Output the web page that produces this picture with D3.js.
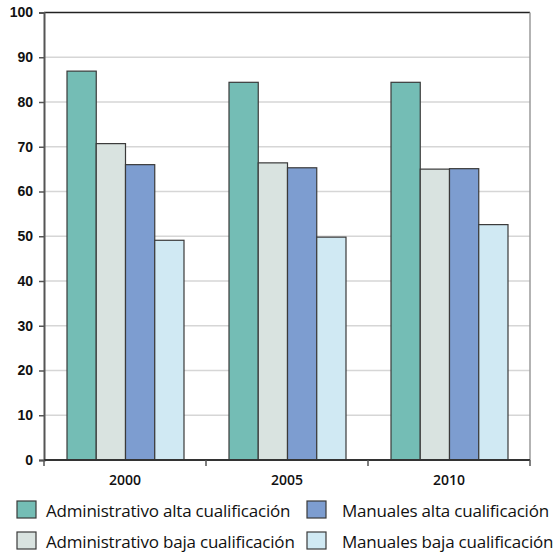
<!DOCTYPE html>
<html>
<head>
<meta charset="utf-8">
<script src="https://cdn.jsdelivr.net/npm/d3@7"></script>
<style>
  body { margin: 0; background: #fff; }
  svg { font-family: "Open Sans", "Noto Sans", sans-serif; }
</style>
</head>
<body>
<div id="chart"></div>
<script>
// data
var years = ["2000", "2005", "2010"];
var seriesNames = [
  "Administrativo alta cualificación",
  "Administrativo baja cualificación",
  "Manuales alta cualificación",
  "Manuales baja cualificación"
];
var adminAlta = [86.9, 84.4, 84.4];
var adminBaja = [70.7, 66.4, 65.0];
var manualAlta = [66.0, 65.3, 65.1];
var manualBaja = [49.1, 49.8, 52.6];
var yTicks = [0, 10, 20, 30, 40, 50, 60, 70, 80, 90, 100];
var colors = ["#74bdb5", "#d9e3e0", "#7d9dd0", "#d0e9f3"];

var values = [adminAlta, adminBaja, manualAlta, manualBaja];

var width = 556, height = 554;
var margin = {top: 12.5, left: 44, right: 26, bottom: 94};
var plotW = width - margin.left - margin.right;
var plotH = height - margin.top - margin.bottom;

var svg = d3.select("#chart").append("svg")
  .attr("width", width)
  .attr("height", height);

var yScale = d3.scaleLinear().domain([0, 100]).range([plotH, 0]);
var x0 = d3.scaleBand().domain(years).range([0, plotW]);
var x1 = d3.scaleBand().domain(d3.range(seriesNames.length))
  .range([0, 117]);

var g = svg.append("g")
  .attr("transform", "translate(" + margin.left + "," + margin.top + ")");

/* gridlines */
g.selectAll(".grid").data(yTicks.slice(1, -1))
  .enter().append("line")
  .attr("x1", 0).attr("x2", plotW)
  .attr("y1", function(d){ return yScale(d); })
  .attr("y2", function(d){ return yScale(d); })
  .attr("stroke", "#d6d6d6")
  .attr("stroke-width", 1.5);

// top line and right border
g.append("line")
  .attr("x1", 0).attr("x2", plotW)
  .attr("y1", yScale(100)).attr("y2", yScale(100))
  .attr("stroke", "#222").attr("stroke-width", 1.5);
g.append("line")
  .attr("x1", plotW).attr("x2", plotW)
  .attr("y1", yScale(100)).attr("y2", yScale(0))
  .attr("stroke", "#9a9a9a").attr("stroke-width", 1.5);

/* bars */
var groups = g.selectAll(".yr").data(years)
  .enter().append("g")
  .attr("transform", function(d){ return "translate(" + (x0(d) + (x0.bandwidth() - 117) / 2 + 0.5) + ",0)"; });

groups.selectAll("rect")
  .data(function(d, i){ return values.map(function(v, s){ return {s: s, v: v[i]}; }); })
  .enter().append("rect")
  .attr("x", function(d){ return x1(d.s); })
  .attr("width", x1.bandwidth())
  .attr("y", function(d){ return yScale(d.v); })
  .attr("height", function(d){ return plotH - yScale(d.v); })
  .attr("fill", function(d){ return colors[d.s]; })
  .attr("stroke", "#3a3a3a")
  .attr("stroke-width", 1.2);

/* axes */
var yAxis = d3.axisLeft(yScale).tickValues(yTicks).tickSize(5).tickPadding(6);
var ya = g.append("g").call(yAxis);
ya.select(".domain").attr("stroke", "#555").attr("stroke-width", 2);
ya.selectAll(".tick line").attr("stroke", "#555").attr("stroke-width", 1.5);
ya.selectAll("text")
  .attr("font-size", 14).attr("font-weight", 600).attr("fill", "#111");

var xa = g.append("g").attr("transform", "translate(0," + plotH + ")");
xa.append("line").attr("x1", 0).attr("x2", plotW)
  .attr("stroke", "#333").attr("stroke-width", 2);
xa.selectAll(".tk").data(d3.range(years.length + 1))
  .enter().append("line")
  .attr("x1", function(d){ return d * x0.step(); })
  .attr("x2", function(d){ return d * x0.step(); })
  .attr("y1", 0).attr("y2", 6)
  .attr("stroke", "#555").attr("stroke-width", 1.5);
xa.selectAll("text").data(years)
  .enter().append("text")
  .attr("x", function(d){ return x0(d) + x0.bandwidth() / 2; })
  .attr("y", 25)
  .attr("text-anchor", "middle")
  .attr("font-size", 14).attr("font-weight", 600).attr("fill", "#111")
  .text(function(d){ return d; });

/* legend */
var legendPos = [[17, 501], [17, 532], [307, 501], [307, 532]];
var leg = svg.selectAll(".leg").data(seriesNames)
  .enter().append("g")
  .attr("transform", function(d, i){ return "translate(" + legendPos[i][0] + "," + legendPos[i][1] + ")"; });
leg.append("rect")
  .attr("width", 19).attr("height", 17)
  .attr("fill", function(d, i){ return colors[i]; })
  .attr("stroke", "#3a3a3a").attr("stroke-width", 1.2);
leg.append("text")
  .attr("x", function(d, i){ return i < 2 ? 29 : 35; }).attr("y", 15.5)
  .attr("font-size", 17)
  .attr("letter-spacing", -0.2)
  .attr("fill", "#111")
  .text(function(d){ return d; });
</script>
</body>
</html>
